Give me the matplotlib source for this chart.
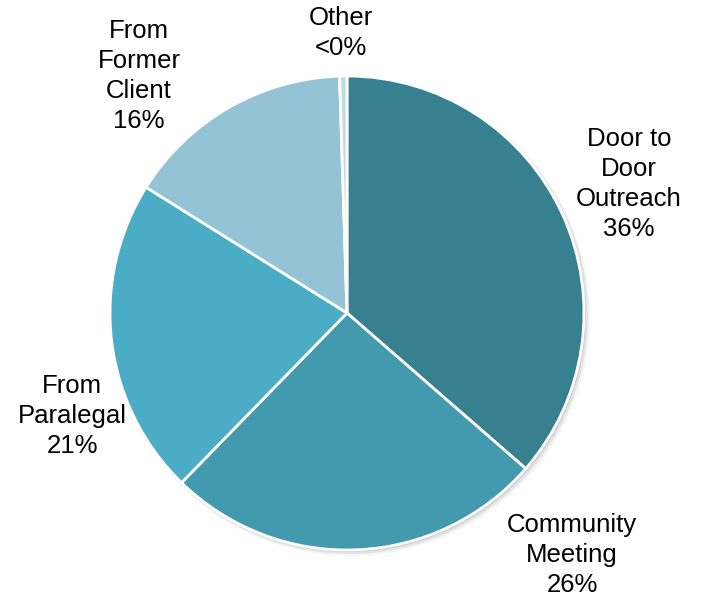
import matplotlib
matplotlib.use("Agg")
import matplotlib.pyplot as plt
from matplotlib.patches import Circle

categories = ["Door to Door Outreach", "Community Meeting", "From Paralegal",
              "From Former Client", "Other"]
values = [36.4, 25.9, 21.6, 15.6, 0.5]
labels = ["Door to\nDoor\nOutreach\n36%", "Community\nMeeting\n26%",
          "From\nParalegal\n21%", "From\nFormer\nClient\n16%", "Other\n<0%"]
colors = ["#37808F", "#4399AE", "#4BACC6", "#93C3D4", "#C0DCE6"]

W, H = 709, 600
fig = plt.figure(figsize=(W / 100, H / 100), dpi=100)
ax = fig.add_axes([0, 0, 1, 1])
ax.set_xlim(0, W)
ax.set_ylim(0, H)
ax.set_aspect("equal")
ax.axis("off")

cx, cy, r = 347, H - 313, 237

# soft shadow
for i, a in enumerate([0.10, 0.07, 0.04]):
    ax.add_patch(Circle((cx + 1.5 + i, cy - 1.5 - i), r + 0.5 + i,
                        facecolor="#000000", alpha=a, edgecolor="none", zorder=0))

ax.pie(values, colors=colors, startangle=90, counterclock=False,
       center=(cx, cy), radius=r, frame=True,
       wedgeprops=dict(edgecolor="white", linewidth=2))
ax.set_xlim(0, W)
ax.set_ylim(0, H)
ax.axis("off")

label_pos = [(629, 184), (572, 555), (72, 416), (139, 76), (341, 33)]
for lab, (x, y) in zip(labels, label_pos):
    ax.text(x, H - y, lab, ha="center", va="center", multialignment="center",
            fontsize=18.5, family=["Liberation Sans", "DejaVu Sans"],
            linespacing=1.32, color="#000000")

fig.savefig("out.png", dpi=100)
